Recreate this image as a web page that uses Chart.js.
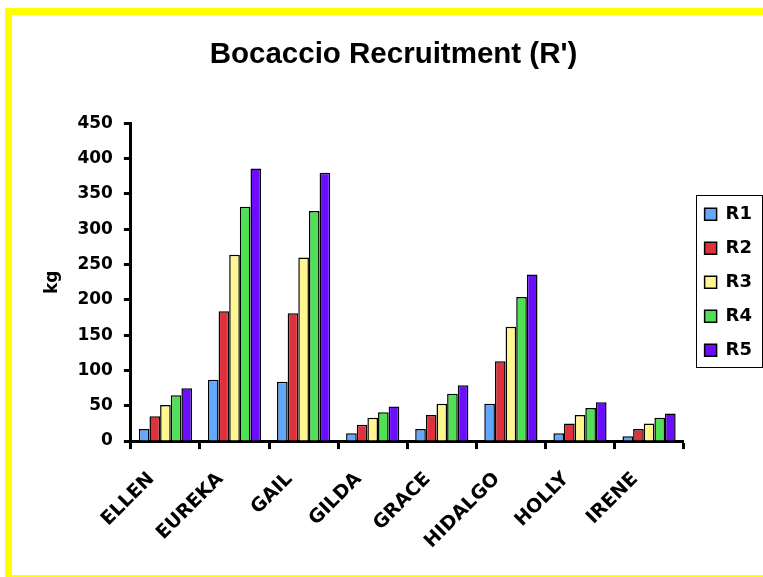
<!DOCTYPE html>
<html lang="en">
<head>
    <meta charset="UTF-8">
    <title>Bocaccio Recruitment (R')</title>
    <script src="https://cdn.jsdelivr.net/npm/chart.js"></script>
    <style>
        body {
            margin: 0;
            background: #fff;
            overflow: hidden;
        }
        #wrap {
            position: relative;
            width: 763px;
            height: 577px;
        }
        /* yellow frame, right and bottom edges run off the page */
        #frame {
            position: absolute;
            left: 5px;
            top: 8px;
            width: 820px;
            height: 574px;
            box-sizing: border-box;
            border: 7px solid #ffff00;
            pointer-events: none;
        }
    </style>
</head>
<body>
    <div id="wrap">
        <canvas id="myChart" width="763" height="577"></canvas>
        <div id="frame"></div>
    </div>

    <script>
        // storms (categories)
        const storms = ['ELLEN', 'EUREKA', 'GAIL', 'GILDA', 'GRACE', 'HIDALGO', 'HOLLY', 'IRENE'];

        // recruitment in kg, one array per series
        const r1 = [17, 87, 84, 11, 17, 53, 11, 7];
        const r2 = [35, 184, 181, 23, 37, 113, 25, 17];
        const r3 = [51, 264, 260, 33, 53, 162, 37, 25];
        const r4 = [65, 332, 326, 41, 67, 204, 47, 33];
        const r5 = [75, 386, 380, 49, 79, 236, 55, 39];

        const seriesNames = ['R1', 'R2', 'R3', 'R4', 'R5'];
        const seriesColors = ['#63a8ff', '#e0303a', '#fff68f', '#4fe055', '#6b0dff'];
        const seriesValues = [r1, r2, r3, r4, r5];

        const yTicks = [0, 50, 100, 150, 200, 250, 300, 350, 400, 450];

        const labelFont = { family: 'DejaVu Sans', weight: 'bold', size: 17 };

        // draws the thin frame around the legend items
        const legendFrame = {
            id: 'legendFrame',
            afterDraw(chart) {
                const hb = chart.legend.legendHitBoxes;
                if (!hb || !hb.length) return;
                let left = Infinity, right = -Infinity;
                hb.forEach(b => {
                    left = Math.min(left, b.left);
                    right = Math.max(right, b.left + b.width);
                });
                const top = hb[0].top - 10;
                const last = hb[hb.length - 1];
                const bottom = last.top + last.height + 8;
                const ctx = chart.ctx;
                ctx.save();
                ctx.strokeStyle = '#000';
                ctx.lineWidth = 1;
                ctx.strokeRect(Math.round(left - 9) + 0.5, Math.round(top) + 0.5,
                    Math.round(right - left + 19), Math.round(bottom - top));
                ctx.restore();
            }
        };

        let ctx = document.getElementById('myChart').getContext('2d');
        let chart = new Chart(ctx, {
            type: 'bar',
            data: {
                labels: storms,
                datasets: seriesNames.map((name, i) => ({
                    label: name,
                    data: seriesValues[i],
                    backgroundColor: seriesColors[i],
                    borderColor: '#000',
                    borderWidth: 1.5,
                    categoryPercentage: 0.77,
                    barPercentage: 1.0
                }))
            },
            options: {
                responsive: false,
                animation: false,
                devicePixelRatio: 1,
                layout: {
                    padding: { left: 25, right: 1, top: 20, bottom: 5 }
                },
                scales: {
                    x: {
                        grid: {
                            drawOnChartArea: false,
                            drawTicks: true,
                            tickLength: 8,
                            tickWidth: 3,
                            tickColor: '#000'
                        },
                        border: { color: '#000', width: 3 },
                        ticks: {
                            color: '#000',
                            font: { family: 'DejaVu Sans', weight: 'bold', size: 19 },
                            minRotation: 45,
                            maxRotation: 45,
                            padding: 19,
                            labelOffset: -14,
                            autoSkip: false
                        }
                    },
                    y: {
                        min: 0,
                        max: 450,
                        afterBuildTicks: axis => {
                            axis.ticks = yTicks.map(v => ({ value: v }));
                        },
                        grid: {
                            drawOnChartArea: false,
                            drawTicks: true,
                            tickLength: 7,
                            tickWidth: 3,
                            tickColor: '#000'
                        },
                        border: { color: '#000', width: 3 },
                        ticks: {
                            color: '#000',
                            font: labelFont,
                            padding: 11
                        },
                        title: {
                            display: true,
                            text: 'kg',
                            color: '#000',
                            font: labelFont,
                            padding: { top: 17, bottom: 4 }
                        }
                    },
                    // empty spacer between plot and legend
                    gap: {
                        type: 'linear',
                        position: 'right',
                        grid: { display: false },
                        border: { display: false },
                        ticks: { display: false },
                        afterFit: s => { s.width = 5; }
                    }
                },
                plugins: {
                    title: {
                        display: true,
                        text: "Bocaccio Recruitment (R')",
                        color: '#000',
                        font: { family: 'Liberation Sans', weight: 'bold', size: 29.5 },
                        padding: { top: 17, bottom: 51 }
                    },
                    legend: {
                        position: 'right',
                        fullSize: false,
                        labels: {
                            color: '#000',
                            font: { family: 'DejaVu Sans', weight: 'bold', size: 18 },
                            boxWidth: 12,
                            boxHeight: 12,
                            padding: 16
                        }
                    },
                    tooltip: { enabled: false }
                }
            },
            plugins: [legendFrame]
        });
    </script>
</body>
</html>
